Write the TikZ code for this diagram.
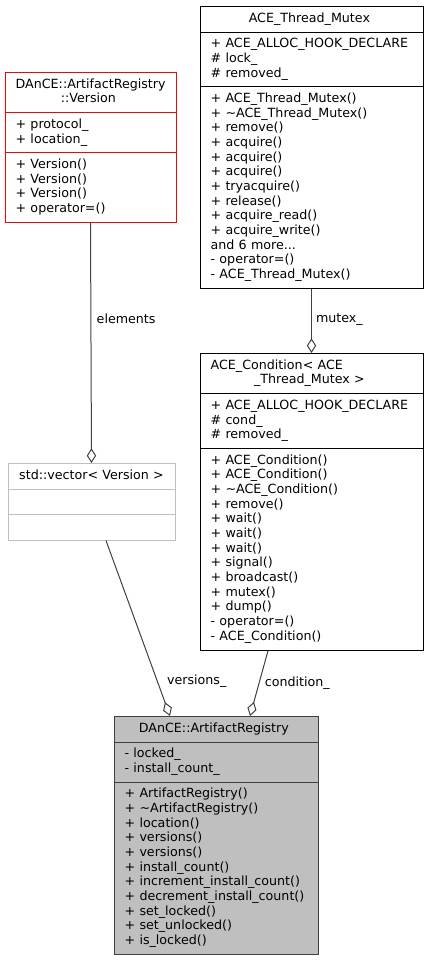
\documentclass[tikz,border=0pt]{standalone}
\usepackage{fontspec}
\setmainfont{DejaVu Sans}
\usetikzlibrary{shapes.multipart,arrows.meta}
\begin{document}
\begin{tikzpicture}[x=0.75pt,y=-0.75pt,
    cls/.style={rectangle split, rectangle split parts=3, draw=black, line width=0.75pt,
        inner xsep=8pt, inner ysep=3.7pt, anchor=north, align=left,
        font=\fontsize{9.5}{11}\selectfont,
        execute at begin node=\strut, execute at end node=\strut},
    member/.style={draw=black!75, line width=0.75pt, -{Diamond[open,length=11pt,width=7pt]}},
    lbl/.style={font=\fontsize{9.5}{11}\selectfont, inner sep=0pt}]
    \useasboundingbox (0,0) rectangle (428,960);
    \node[cls, draw=red, text width=112.25pt] (ver) at (90.5,72)
        {\hspace*{\fill}DAnCE::ArtifactRegistry\hspace*{\fill}\\\hspace*{\fill}::Version\hspace*{\fill}
         \nodepart{two}+ protocol\_\\+ location\_
         \nodepart{three}+ Version()\\+ Version()\\+ Version()\\+ operator=()};
    \node[cls, text width=151.25pt] (mtx) at (311.5,6)
        {\hspace*{\fill}ACE\_Thread\_Mutex\hspace*{\fill}
         \nodepart{two}+ ACE\_ALLOC\_HOOK\_DECLARE\\\# lock\_\\\# removed\_
         \nodepart{three}+ ACE\_Thread\_Mutex()\\+ \textasciitilde ACE\_Thread\_Mutex()\\+ remove()\\+ acquire()\\+ acquire()\\+ acquire()\\+ tryacquire()\\+ release()\\+ acquire\_read()\\+ acquire\_write()\\and 6 more...\\- operator=()\\- ACE\_Thread\_Mutex()};
    \node[cls, draw=black!25, text width=109.25pt] (vec) at (91.5,463)
        {\hspace*{\fill}std::vector< Version >\hspace*{\fill}\nodepart{two}\nodepart{three}};
    \node[cls, text width=151.25pt] (cnd) at (311.5,353)
        {ACE\_Condition< ACE\hspace*{\fill}\\\hspace*{\fill}\_Thread\_Mutex >\hspace*{\fill}
         \nodepart{two}+ ACE\_ALLOC\_HOOK\_DECLARE\\\# cond\_\\\# removed\_
         \nodepart{three}+ ACE\_Condition()\\+ ACE\_Condition()\\+ \textasciitilde ACE\_Condition()\\+ remove()\\+ wait()\\+ wait()\\+ wait()\\+ signal()\\+ broadcast()\\+ mutex()\\+ dump()\\- operator=()\\- ACE\_Condition()};
    \node[cls, draw=black!75, fill=black!25, text width=137pt] (reg) at (216,716)
        {\hspace*{\fill}DAnCE::ArtifactRegistry\hspace*{\fill}
         \nodepart{two}- locked\_\\- install\_count\_
         \nodepart{three}+ ArtifactRegistry()\\+ \textasciitilde ArtifactRegistry()\\+ location()\\+ versions()\\+ versions()\\+ install\_count()\\+ increment\_install\_count()\\+ decrement\_install\_count()\\+ set\_locked()\\+ set\_unlocked()\\+ is\_locked()};
    \draw[member] (ver.south) -- (vec.north)
        node[lbl, pos=0.4, anchor=west, xshift=4pt] {elements};
    \draw[member] (mtx.south) -- (cnd.north)
        node[lbl, pos=0.47, anchor=west, xshift=3pt] {mutex\_};
    \draw[member] ([xshift=10.9pt]vec.south) -- ([xshift=-34.5pt]reg.north)
        node[lbl, pos=0.8, anchor=west, xshift=7pt] {versions\_};
    \draw[member] ([xshift=-32.6pt]cnd.south) -- ([xshift=25.5pt]reg.north)
        node[lbl, pos=0.5, anchor=west, xshift=4pt] {condition\_};
\end{tikzpicture}
\end{document}
